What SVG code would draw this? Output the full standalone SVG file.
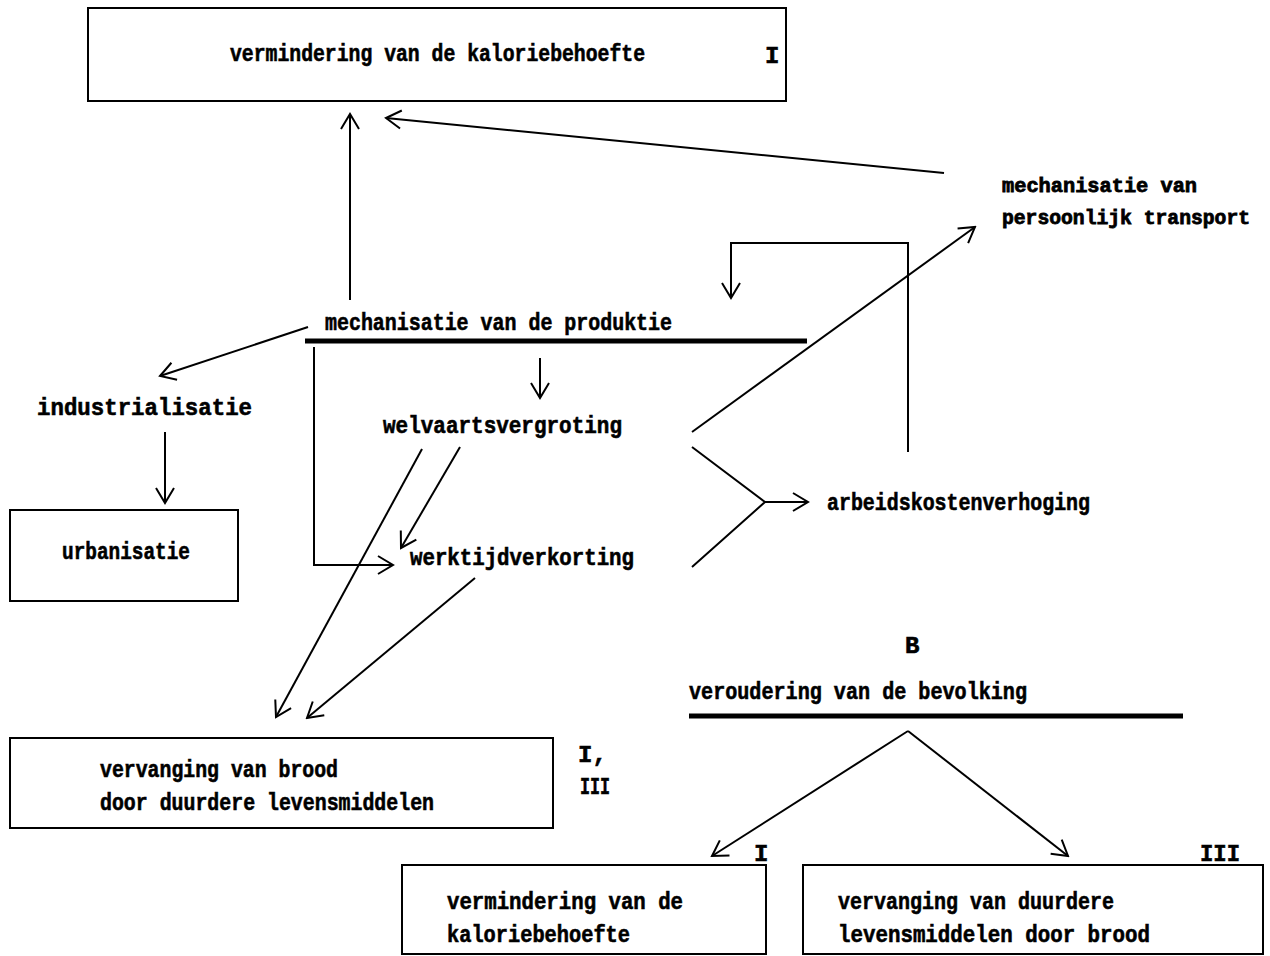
<svg xmlns="http://www.w3.org/2000/svg" width="1270" height="956" viewBox="0 0 1270 956">
<style>
text{font-family:"Liberation Mono","DejaVu Sans Mono",monospace;font-weight:bold;font-size:24px;fill:#000;stroke:#000;stroke-width:0.6}
.sm{font-size:20px;stroke-width:0.8}
.box{fill:none;stroke:#000;stroke-width:2}
.ln{fill:none;stroke:#000;stroke-width:2}
.ul{fill:none;stroke:#000;stroke-width:5}
</style>
<defs>
<marker id="a" viewBox="-17 -11 19 22" refX="0" refY="0" markerWidth="19" markerHeight="22" markerUnits="userSpaceOnUse" orient="auto">
<path d="M-15,-9 L0,0 L-15,9" fill="none" stroke="#000" stroke-width="2"/>
</marker>
</defs>
<rect width="1270" height="956" fill="#fff"/>

<g id="connectors">
<line class="ln" x1="350" y1="300" x2="350" y2="114" marker-end="url(#a)"/>
<line class="ln" x1="944" y1="173" x2="386" y2="118" marker-end="url(#a)"/>
<polyline class="ln" points="908,452 908,243 731,243 731,298" marker-end="url(#a)"/>
<line class="ln" x1="692" y1="432" x2="975" y2="227" marker-end="url(#a)"/>
<line class="ln" x1="308" y1="327" x2="160" y2="376" marker-end="url(#a)"/>
<line class="ln" x1="165" y1="432" x2="165" y2="503" marker-end="url(#a)"/>
<polyline class="ln" points="314,347 314,565 393,565" marker-end="url(#a)"/>
<line class="ln" x1="540" y1="358" x2="540" y2="398" marker-end="url(#a)"/>
<line class="ln" x1="422" y1="449" x2="276" y2="717" marker-end="url(#a)"/>
<line class="ln" x1="460" y1="447" x2="401" y2="548" marker-end="url(#a)"/>
<line class="ln" x1="475" y1="578" x2="307" y2="718" marker-end="url(#a)"/>
<polyline class="ln" points="692,447 765,502 692,567"/>
<line class="ln" x1="765" y1="502" x2="808" y2="502" marker-end="url(#a)"/>
<line class="ln" x1="908" y1="731" x2="712" y2="856" marker-end="url(#a)"/>
<line class="ln" x1="908" y1="731" x2="1068" y2="856" marker-end="url(#a)"/>
</g>

<g id="n-kalorie-top">
<rect class="box" x="88" y="8" width="698" height="93"/>
<text x="230" y="61" textLength="415" lengthAdjust="spacingAndGlyphs">vermindering van de kaloriebehoefte</text>
<text x="765" y="63">I</text>
</g>

<g id="n-transport">
<text class="sm" x="1002" y="192" textLength="195" lengthAdjust="spacingAndGlyphs">mechanisatie van</text>
<text class="sm" x="1002" y="224" textLength="248" lengthAdjust="spacingAndGlyphs">persoonlijk transport</text>
</g>

<g id="n-produktie">
<text x="325" y="330" textLength="347" lengthAdjust="spacingAndGlyphs">mechanisatie van de produktie</text>
<line class="ul" x1="305" y1="341" x2="807" y2="341"/>
</g>

<g id="n-industrialisatie">
<text x="37" y="415" textLength="215" lengthAdjust="spacingAndGlyphs">industrialisatie</text>
</g>

<g id="n-urbanisatie">
<rect class="box" x="10" y="510" width="228" height="91"/>
<text x="62" y="559" textLength="128" lengthAdjust="spacingAndGlyphs">urbanisatie</text>
</g>

<g id="n-welvaart">
<text x="383" y="433" textLength="239" lengthAdjust="spacingAndGlyphs">welvaartsvergroting</text>
</g>

<g id="n-werktijd">
<text x="410" y="565" textLength="224" lengthAdjust="spacingAndGlyphs">werktijdverkorting</text>
</g>

<g id="n-arbeidskosten">
<text x="827" y="510" textLength="263" lengthAdjust="spacingAndGlyphs">arbeidskostenverhoging</text>
</g>

<g id="n-vervanging-brood">
<rect class="box" x="10" y="738" width="543" height="90"/>
<text x="100" y="777" textLength="238" lengthAdjust="spacingAndGlyphs">vervanging van brood</text>
<text x="100" y="810" textLength="334" lengthAdjust="spacingAndGlyphs">door duurdere levensmiddelen</text>
<text x="578" y="762">I,</text>
<text x="580" y="794" textLength="30" lengthAdjust="spacingAndGlyphs">III</text>
</g>

<g id="n-veroudering">
<text x="905" y="653">B</text>
<text x="689" y="699" textLength="338" lengthAdjust="spacingAndGlyphs">veroudering van de bevolking</text>
<line class="ul" x1="689" y1="716" x2="1183" y2="716"/>
</g>

<g id="n-kalorie-bottom">
<rect class="box" x="402" y="865" width="364" height="89"/>
<text x="447" y="909" textLength="236" lengthAdjust="spacingAndGlyphs">vermindering van de</text>
<text x="447" y="942" textLength="183" lengthAdjust="spacingAndGlyphs">kaloriebehoefte</text>
<text x="754" y="861">I</text>
</g>

<g id="n-vervanging-duurdere">
<rect class="box" x="803" y="865" width="460" height="89"/>
<text x="838" y="909" textLength="276" lengthAdjust="spacingAndGlyphs">vervanging van duurdere</text>
<text x="838" y="942" textLength="312" lengthAdjust="spacingAndGlyphs">levensmiddelen door brood</text>
<text x="1200" y="861" textLength="40" lengthAdjust="spacingAndGlyphs">III</text>
</g>
</svg>
